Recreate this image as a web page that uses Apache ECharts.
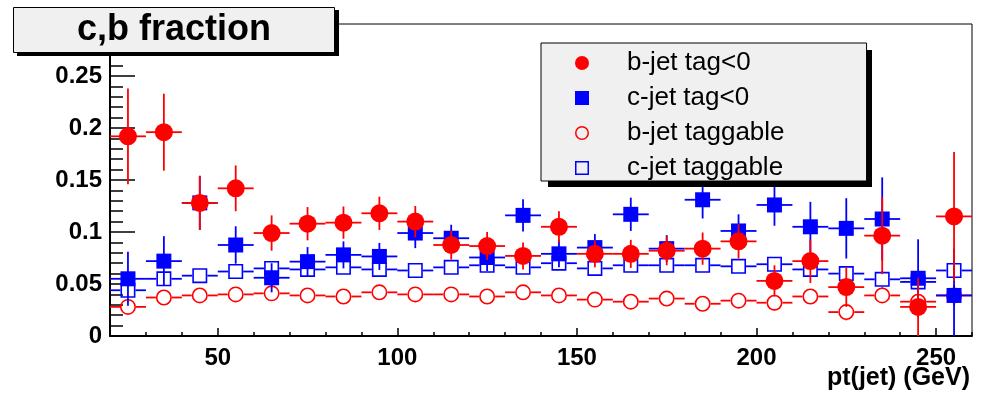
<!DOCTYPE html>
<html>
<head>
<meta charset="utf-8">
<script src="https://cdn.jsdelivr.net/npm/echarts@6/dist/echarts.min.js"></script>
<style>
  html, body { margin: 0; padding: 0; background: #fff; }
  #chart { width: 983px; height: 393px; }
</style>
</head>
<body>
<div id="chart"></div>
<script>
// Bin centres of the jet pt histogram (GeV), 10 GeV wide bins
const binCenters = [25, 35, 45, 55, 65, 75, 85, 95, 105, 115, 125, 135, 145, 155, 165, 175, 185, 195, 205, 215, 225, 235, 245, 255];
const binHalfWidth = 5;

// b-jet tag<0 fraction and its error
const bTagNeg    = [0.192, 0.196, 0.128, 0.142, 0.099, 0.108, 0.109, 0.118, 0.110, 0.0875, 0.0865, 0.077, 0.105, 0.079, 0.079, 0.082, 0.084, 0.091, 0.053, 0.072, 0.047, 0.0965, 0.028, 0.115];
const bTagNegErr = [0.046, 0.037, 0.026, 0.022, 0.017, 0.016, 0.0155, 0.016, 0.015, 0.014, 0.0135, 0.013, 0.015, 0.013, 0.0135, 0.014, 0.0155, 0.0165, 0.015, 0.021, 0.019, 0.037, 0.028, 0.062];

// c-jet tag<0 fraction and its error
const cTagNeg    = [0.055, 0.072, 0.128, 0.0875, 0.056, 0.0715, 0.078, 0.0765, 0.099, 0.094, 0.0755, 0.116, 0.079, 0.085, 0.117, 0.084, 0.131, 0.101, 0.126, 0.105, 0.1035, 0.1125, 0.0555, 0.039];
const cTagNegErr = [0.026, 0.024, 0.026, 0.018, 0.014, 0.014, 0.013, 0.013, 0.0145, 0.013, 0.013, 0.0155, 0.013, 0.013, 0.016, 0.013, 0.018, 0.016, 0.020, 0.024, 0.029, 0.040, 0.0375, 0.045];

// b-jet taggable fraction and its error
const bTaggable    = [0.028, 0.037, 0.039, 0.040, 0.041, 0.039, 0.038, 0.042, 0.040, 0.040, 0.038, 0.042, 0.039, 0.035, 0.033, 0.036, 0.031, 0.034, 0.032, 0.038, 0.023, 0.039, 0.033, 0.039];
const bTaggableErr = [0.003, 0.003, 0.003, 0.003, 0.003, 0.003, 0.003, 0.003, 0.003, 0.003, 0.003, 0.003, 0.003, 0.003, 0.003, 0.004, 0.004, 0.004, 0.005, 0.005, 0.008, 0.006, 0.008, 0.010];

// c-jet taggable fraction and its error
const cTaggable    = [0.044, 0.055, 0.058, 0.062, 0.065, 0.064, 0.066, 0.064, 0.063, 0.066, 0.068, 0.066, 0.070, 0.065, 0.068, 0.068, 0.068, 0.067, 0.069, 0.064, 0.060, 0.0545, 0.052, 0.063];
const cTaggableErr = [0.003, 0.003, 0.003, 0.003, 0.003, 0.003, 0.003, 0.003, 0.003, 0.003, 0.003, 0.003, 0.003, 0.003, 0.003, 0.004, 0.004, 0.004, 0.005, 0.006, 0.007, 0.008, 0.009, 0.010];

// Axis tick values
const xMajorTicks = [50, 100, 150, 200, 250];
const yMajorTicks = [0, 0.05, 0.1, 0.15, 0.2, 0.25];

const RED = '#ff0000';
const BLUE = '#0000ff';
const FONT = '"Liberation Sans", Arial, Helvetica, sans-serif';

function toPoints(ys, errs) {
  return binCenters.map((x, i) => [x, ys[i], errs[i]]);
}

// Error-bar marker renderer: horizontal bar spans the bin, vertical bar spans +-err.
// Open markers leave their own bars out of the marker interior.
function errorMarker(shape, color, open, size) {
  return function (params, api) {
    const x = api.value(0), y = api.value(1), e = api.value(2);
    const c = api.coord([x, y]);
    const l = api.coord([x - binHalfWidth, y]);
    const r = api.coord([x + binHalfWidth, y]);
    const t = api.coord([x, y + e]);
    const b = api.coord([x, y - e]);
    const half = size / 2;
    const gap = open ? half : 0;
    const ls = { stroke: color, lineWidth: 1.8 };
    const children = [];
    children.push({ type: 'line', shape: { x1: l[0], y1: c[1], x2: c[0] - gap, y2: c[1] }, style: ls });
    children.push({ type: 'line', shape: { x1: c[0] + gap, y1: c[1], x2: r[0], y2: c[1] }, style: ls });
    if (t[1] < c[1] - gap) {
      children.push({ type: 'line', shape: { x1: c[0], y1: t[1], x2: c[0], y2: c[1] - gap }, style: ls });
    }
    if (b[1] > c[1] + gap) {
      children.push({ type: 'line', shape: { x1: c[0], y1: c[1] + gap, x2: c[0], y2: b[1] }, style: ls });
    }
    const mStyle = open
      ? { fill: 'none', stroke: color, lineWidth: 1.6 }
      : { fill: color, stroke: null };
    const h = open ? half - 0.8 : half;
    if (shape === 'circle') {
      children.push({ type: 'circle', shape: { cx: c[0], cy: c[1], r: h }, style: mStyle });
    } else {
      children.push({ type: 'rect', shape: { x: c[0] - h, y: c[1] - h, width: 2 * h, height: 2 * h }, style: mStyle });
    }
    return { type: 'group', children: children };
  };
}

const ringIcon = 'path://M7,0A7,7,0,1,1,7,14A7,7,0,1,1,7,0ZM7,1.5A5.5,5.5,0,1,0,7,12.5A5.5,5.5,0,1,0,7,1.5Z';
const squareRingIcon = 'path://M0,0H14V14H0ZM1.5,1.5V12.5H12.5V1.5Z';

const chart = echarts.init(document.getElementById('chart'), null, { renderer: 'canvas' });

chart.setOption({
  animation: false,
  backgroundColor: '#ffffff',
  title: {
    text: 'c,b fraction',
    left: 13,
    top: 7,
    padding: [5, 64],
    backgroundColor: '#f0f0f0',
    borderColor: '#000',
    borderWidth: 1,
    textStyle: { fontFamily: FONT, fontSize: 36, fontWeight: 'bold', color: '#000', lineHeight: 36 },
    z: 10
  },
  legend: {
    orient: 'vertical',
    left: 541,
    top: 43,
    padding: [7, 82, 0, 34],
    itemWidth: 14,
    itemHeight: 14,
    itemGap: 9,
    backgroundColor: '#f0f0f0',
    borderColor: '#000',
    borderWidth: 1,
    textStyle: { fontFamily: FONT, fontSize: 26, color: '#000', lineHeight: 25, padding: [0, 0, 0, 33] },
    data: [
      { name: 'b-jet tag<0', icon: 'circle' },
      { name: 'c-jet tag<0', icon: 'rect' },
      { name: 'b-jet taggable', icon: ringIcon },
      { name: 'c-jet taggable', icon: squareRingIcon }
    ],
    z: 10
  },
  graphic: [
    // drop shadows behind the title box and the legend box
    { type: 'rect', left: 17, top: 10, shape: { width: 322, height: 46 }, style: { fill: '#000' }, z: 9 },
    { type: 'rect', left: 548, top: 50, shape: { width: 324, height: 137 }, style: { fill: '#000' }, z: 9 },
    // x axis title, right-aligned under the axis end
    { type: 'text', right: 13, top: 366, style: { text: 'pt(jet) (GeV)', fontFamily: FONT, fontSize: 25, fontWeight: 'bold', fill: '#000' }, z: 10 }
  ],
  grid: { left: 110, right: 11, top: 24, bottom: 57, outerBoundsMode: 'none', containLabel: false, show: true, borderColor: '#000', borderWidth: 1, backgroundColor: 'transparent' },
  xAxis: [
    {
      type: 'value', min: 20, max: 260,
      axisLine: { show: true, onZero: false, lineStyle: { color: '#000', width: 2 } },
      axisTick: { show: true, inside: true, length: 8, customValues: xMajorTicks, lineStyle: { color: '#000', width: 1.5 } },
      axisLabel: { show: true, customValues: xMajorTicks, margin: 10, fontFamily: FONT, fontSize: 24, fontWeight: 'bold', color: '#000' },
      splitLine: { show: false }
    },
    {
      type: 'value', min: 20, max: 260, interval: 10,
      position: 'bottom',
      axisLine: { show: false },
      axisTick: { show: true, inside: true, length: 4, lineStyle: { color: '#000', width: 1.5 } },
      axisLabel: { show: false },
      splitLine: { show: false }
    }
  ],
  yAxis: [
    {
      type: 'value', min: 0, max: 0.3,
      axisLine: { show: true, onZero: false, lineStyle: { color: '#000', width: 2 } },
      axisTick: { show: true, inside: true, length: 25, customValues: yMajorTicks, lineStyle: { color: '#000', width: 1.5 } },
      axisLabel: { show: true, customValues: yMajorTicks, margin: 8, fontFamily: FONT, fontSize: 24, fontWeight: 'bold', color: '#000' },
      splitLine: { show: false }
    },
    {
      type: 'value', min: 0, max: 0.3, interval: 0.01,
      position: 'left',
      axisLine: { show: false },
      axisTick: { show: true, inside: true, length: 13, lineStyle: { color: '#000', width: 1.5 } },
      axisLabel: { show: false },
      splitLine: { show: false }
    }
  ],
  series: [
    {
      name: 'c-jet taggable', type: 'custom', clip: true,
      itemStyle: { color: BLUE },
      renderItem: errorMarker('rect', BLUE, true, 15),
      encode: { x: 0, y: 1 },
      data: toPoints(cTaggable, cTaggableErr)
    },
    {
      name: 'b-jet taggable', type: 'custom', clip: true,
      itemStyle: { color: RED },
      renderItem: errorMarker('circle', RED, true, 16),
      encode: { x: 0, y: 1 },
      data: toPoints(bTaggable, bTaggableErr)
    },
    {
      name: 'c-jet tag<0', type: 'custom', clip: true,
      itemStyle: { color: BLUE },
      renderItem: errorMarker('rect', BLUE, false, 15),
      encode: { x: 0, y: 1 },
      data: toPoints(cTagNeg, cTagNegErr)
    },
    {
      name: 'b-jet tag<0', type: 'custom', clip: true,
      itemStyle: { color: RED },
      renderItem: errorMarker('circle', RED, false, 18),
      encode: { x: 0, y: 1 },
      data: toPoints(bTagNeg, bTagNegErr)
    }
  ]
});
</script>
</body>
</html>
